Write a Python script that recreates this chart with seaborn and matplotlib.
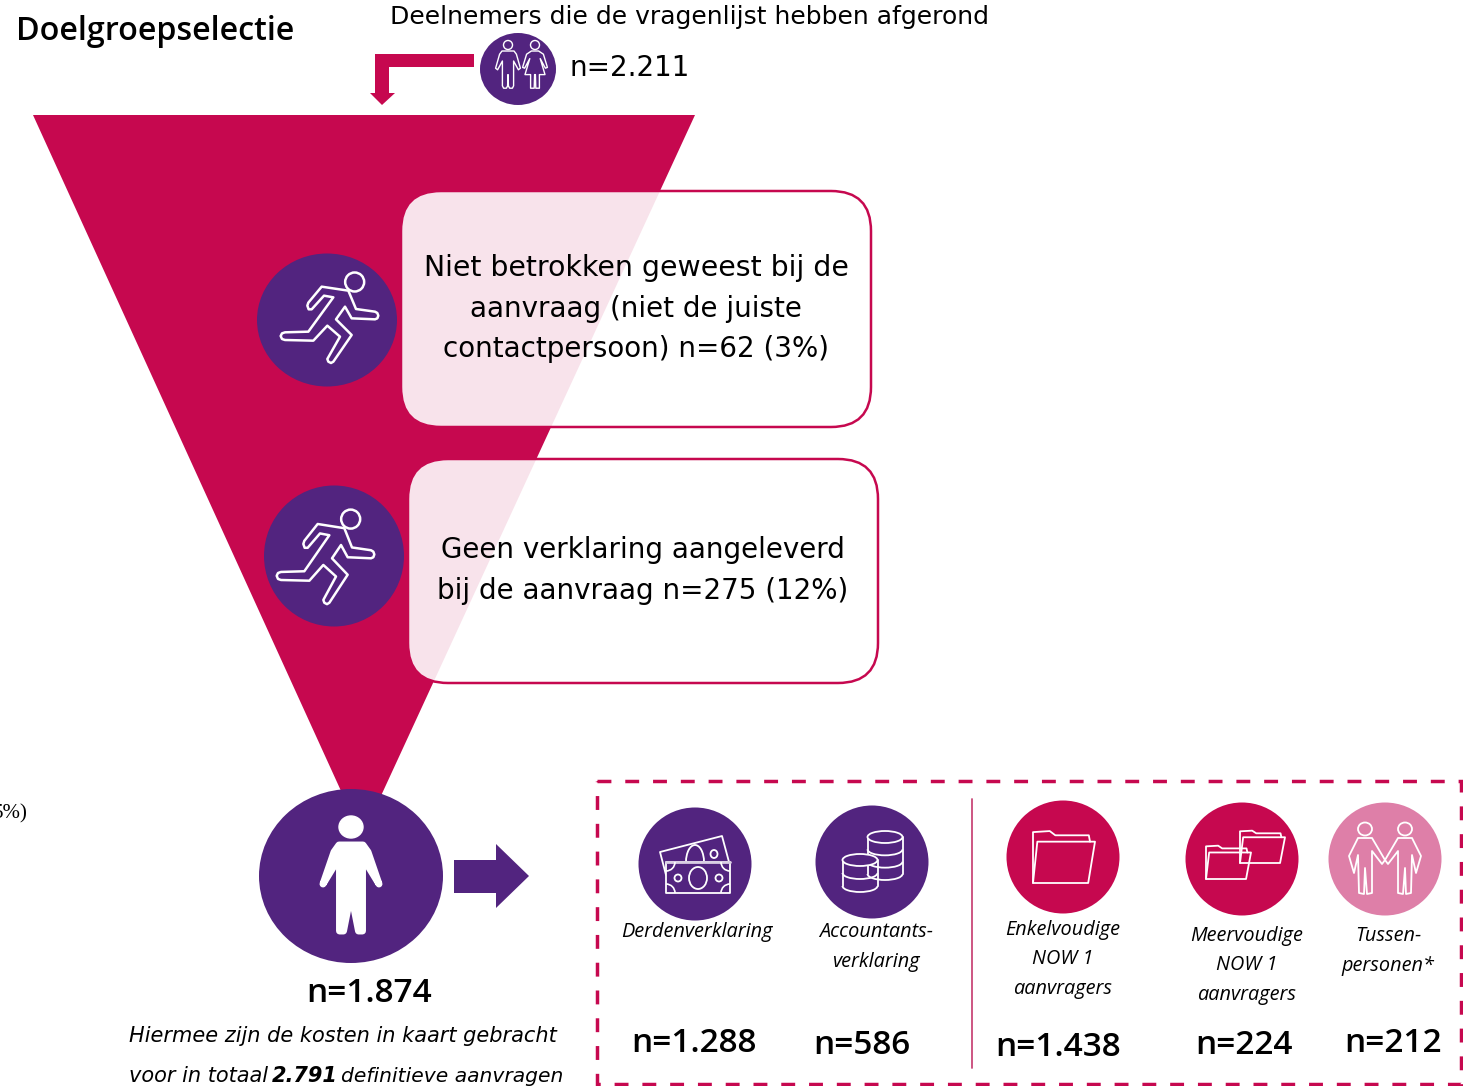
import matplotlib
matplotlib.use("Agg")
import matplotlib.pyplot as plt
import numpy as np
import pandas as pd
import seaborn as sns
from matplotlib.patches import Arc, Ellipse, FancyBboxPatch, Polygon

CRIMSON = "#C6084F"
PURPLE = "#52247F"
PINK = "#DE7FA8"

# Chart content
title = "Doelgroepselectie"
start_label = "Deelnemers die de vragenlijst hebben afgerond"
start_n = "n=2.211"
drop_labels = [
    ["Niet betrokken geweest bij de", "aanvraag (niet de juiste", "contactpersoon) n=62 (3%)"],
    ["Geen verklaring aangeleverd", "bij de aanvraag n=275 (12%)"],
]
end_n = "n=1.874"
note_start = ["Hiermee zijn de kosten in kaart gebracht", "voor in totaal"]
note_total = "2.791"
note_end = "definitieve aanvragen"
group_names = [
    ["Derdenverklaring"],
    ["Accountants-", "verklaring"],
    ["Enkelvoudige", "NOW 1", "aanvragers"],
    ["Meervoudige", "NOW 1", "aanvragers"],
    ["Tussen-", "personen*"],
]
group_counts = ["n=1.288", "n=586", "n=1.438", "n=224", "n=212"]
group_kinds = ["verklaring", "verklaring", "aanvrager", "aanvrager", "tussen"]

sns.set_theme(style="white")
plt.rcParams["font.family"] = ["DejaVu Sans"]

fig = plt.figure(figsize=(14.63, 10.86), dpi=100)
ax = fig.add_axes([0, 0, 1, 1])


def txt(x, y, s, size, ha="center", **kw):
    ax.text(x, y, s, fontsize=size, ha=ha, va="center", color="black", **kw)


def outline(points, lw=1.3, fc="none", z=6, ec="white"):
    ax.add_patch(Polygon(points, closed=True, fc=fc, ec=ec, lw=lw, joinstyle="round", zorder=z))


def head(x, y, rx, ry, lw=1.3, fc="none"):
    ax.add_patch(Ellipse((x, y), 2 * rx, 2 * ry, fc=fc, ec="white", lw=lw, zorder=6))


# person shape, centre x = 0, head top y = 0, feet y = 118
person = np.array([(-15, 25), (15, 25), (21, 33), (31, 68), (26, 72), (14, 50), (14, 112), (11, 118),
                   (4, 118), (1, 112), (0, 84), (-1, 112), (-4, 118), (-11, 118), (-14, 112),
                   (-14, 50), (-26, 72), (-31, 68), (-21, 33)], dtype=float)
woman = np.array([(-9, 25), (9, 25), (21, 33), (31, 66), (26, 68), (13, 44), (25, 84), (11, 84), (11, 118),
                  (2, 118), (1, 84), (-1, 84), (-2, 118), (-11, 118), (-11, 84), (-25, 84), (-13, 44),
                  (-26, 68), (-31, 66), (-21, 33)], dtype=float)
# inset shape for the solid figure, the thick round stroke brings it back to size
big_person = np.array([(-12, 28), (12, 28), (17, 35), (28, 67), (11.5, 40), (11.5, 114), (7.5, 114), (0, 76),
                       (-7.5, 114), (-11.5, 114), (-11.5, 40), (-28, 67), (-17, 35)], dtype=float)

# runner, traced from the first circle
runner = np.array([(215, 140), (295, 152), (318, 207), (375, 215), (382, 219), (385, 227), (382, 235), (375, 238),
                   (305, 235), (285, 200), (258, 238), (305, 285), (250, 365), (243, 369), (235, 365), (232, 357),
                   (270, 290), (232, 257), (190, 302), (105, 300), (96, 297), (92, 288), (96, 280), (105, 277),
                   (175, 275), (250, 172), (222, 167), (185, 208), (176, 208), (172, 197), (175, 188)],
                  dtype=float) / 3


def draw_runner(dx, dy, sy=1.0):
    pts = runner.copy()
    pts[:, 0] += dx
    pts[:, 1] = pts[:, 1] * sy + dy
    outline(pts, lw=1.8)
    head(314 / 3 + dx, 126 / 3 * sy + dy, 9.5, 9.5, lw=1.8)


def draw_folder(x, y, w, h):
    back = [(0, 1), (0, .04), (.27, .02), (.36, .1), (.9, .1), (.92, .22)]
    front = [(.07, .22), (1, .22), (.89, 1), (0, 1)]
    ax.plot([x + a * w for a, b in back], [y + b * h for a, b in back], color="white", lw=1.3, zorder=6)
    outline([(x + a * w, y + b * h) for a, b in front], lw=1.3)


def draw_stack(cx, top, bottom, rx, ry, bands):
    ax.add_patch(plt.Rectangle((cx - rx, top), 2 * rx, bottom - top, fc=PURPLE, ec="none", zorder=6))
    ax.add_patch(Ellipse((cx, bottom), 2 * rx, 2 * ry, fc=PURPLE, ec="none", zorder=6))
    ax.plot([cx - rx, cx - rx], [top, bottom], color="white", lw=1.3, zorder=7)
    ax.plot([cx + rx, cx + rx], [top, bottom], color="white", lw=1.3, zorder=7)
    ax.add_patch(Ellipse((cx, top), 2 * rx, 2 * ry, fc=PURPLE, ec="white", lw=1.3, zorder=7))
    for b in np.linspace(top, bottom, bands + 1)[1:]:
        ax.add_patch(Arc((cx, b), 2 * rx, 2 * ry, theta1=0, theta2=180, ec="white", lw=1.3, zorder=7))


# funnel
ax.add_patch(Polygon([(33, 115), (695, 115), (362, 837)], closed=True, fc=CRIMSON, ec="none", zorder=1))

# elbow arrow
ax.add_patch(Polygon([(474, 54), (375, 54), (375, 93), (370, 93), (382, 105), (395, 93), (389, 93), (389, 67), (474, 67)],
                     closed=True, fc=CRIMSON, ec="none", zorder=2))

# purple arrow
ax.add_patch(Polygon([(454, 860), (496, 860), (496, 844), (529, 876), (496, 908), (496, 893), (454, 893)],
                     closed=True, fc=PURPLE, ec="none", zorder=2))

# text boxes over the funnel
for x0, y0, x1, y1 in [(401, 191, 871, 427), (408, 459, 878, 683)]:
    ax.add_patch(FancyBboxPatch((x0 + 40, y0 + 40), x1 - x0 - 80, y1 - y0 - 80, boxstyle="round,pad=40,rounding_size=40",
                                fc=(1, 1, 1, 0.89), ec=CRIMSON, lw=1.8, zorder=3))

# dashed frame and divider
ax.add_patch(plt.Rectangle((597, 781), 864, 303, fc="none", ec=CRIMSON, lw=2.5,
                           linestyle=(0, (4, 4)), zorder=2))
ax.plot([972, 972], [799, 1068], color="#C94878", lw=1.3, zorder=2)

# round group icons, one marker per group
group_df = pd.DataFrame({
    "x": [695, 872, 1063, 1242, 1385],
    "y": [864, 862, 857, 859, 859],
    "soort": group_kinds,
})
sns.scatterplot(data=group_df, x="x", y="y", hue="soort", ax=ax, s=(113 * 0.72) ** 2, linewidth=0, legend=False,
                palette={"verklaring": PURPLE, "aanvrager": CRIMSON, "tussen": PINK}, zorder=4)

# the slightly oval circles
for cx, cy, w, h in [(518, 69, 76, 72), (327, 320, 140, 133), (334, 556, 140, 141), (351, 876, 184, 174)]:
    ax.add_patch(Ellipse((cx, cy), w, h, fc=PURPLE, ec="none", zorder=4))

# top couple icon
outline(person * 0.4 + (508, 41), lw=1)
head(508, 45, 4.5, 4.5, lw=1)
outline(woman * 0.4 + (535, 41), lw=1)
head(535, 45, 4.5, 4.5, lw=1)

# runners
draw_runner(250, 240)
draw_runner(246, 475, 1.05)

# big person
outline(big_person + (351, 817), lw=5, fc="white", ec="white")
head(351, 827, 12, 11, lw=1, fc="white")

# bank notes
outline([(660, 852), (722, 836), (729, 862), (666, 875)], lw=1.3)
ax.add_patch(Arc((695, 862), 18, 34, theta1=180, theta2=360, ec="white", lw=1.3, zorder=6))
head(714, 854, 3.5, 4)
outline([(666, 862), (730, 862), (730, 893), (666, 893)], lw=1.3, fc=PURPLE)
ax.plot([666, 730], [862, 862], color="#D9CDE3", lw=2, zorder=7)
head(698, 878, 9, 11)
head(678, 878, 3.5, 3.5)
head(719, 878, 3.5, 3.5)
for cx, cy, a, b in [(666, 862, 0, 90), (730, 862, 90, 180), (666, 893, 270, 360), (730, 893, 180, 270)]:
    ax.add_patch(Arc((cx, cy), 18, 18, theta1=a, theta2=b, ec="white", lw=1.2, zorder=7))

# coins
draw_stack(885, 837, 874, 17.5, 6, 3)
draw_stack(860, 860, 886, 17.5, 6, 2)

# folders
draw_folder(1033, 830, 62, 53)
draw_folder(1240, 830, 45, 33)
draw_folder(1206, 845, 45, 34)

# handshake
left_body = [(1358, 838), (1372, 838), (1385, 860), (1382, 864), (1372, 851), (1372, 893), (1367, 894), (1365, 868),
             (1364, 894), (1359, 893), (1358, 855), (1354, 873), (1349, 856)]
outline(left_body, lw=1.3)
outline([(2 * 1385 - a, b) for a, b in left_body], lw=1.3)
head(1365, 829, 7, 6.5)
head(1405, 829, 7, 6.5)

# texts
txt(16, 31, title, 23.2, ha="left", fontfamily="Open Sans", fontweight="semibold")
txt(690, 17, start_label, 18)
txt(630, 68, start_n, 20)
for y, s, size in zip([268, 309, 349], drop_labels[0], [20.4, 20, 20]):
    txt(636, y, s, size)
for y, s in zip([550, 591], drop_labels[1]):
    txt(643, y, s, 20)
txt(28, 814, "5%)", 15, ha="right", fontfamily="Liberation Serif")
txt(369, 993, end_n, 24, fontfamily="Open Sans", fontweight="semibold")
txt(129, 1036, note_start[0], 15, ha="left", style="italic")
txt(129, 1076, note_start[1], 15, ha="left", style="italic")
txt(272, 1076, note_total, 15, ha="left", style="italic", fontweight="bold")
txt(341, 1076, note_end, 14.6, ha="left", style="italic")

name_x = [697, 876, 1063, 1247, 1388]
name_y = [932, 932, 930, 936, 936]
count_x = [694, 862, 1058, 1244, 1393]
count_y = [1043, 1045, 1048, 1045, 1043]
for i, lines in enumerate(group_names):
    for j, s in enumerate(lines):
        txt(name_x[i], name_y[i] + j * 29.5, s, 14.3, style="italic", fontfamily="Open Sans")
    txt(count_x[i], count_y[i], group_counts[i], 24, fontfamily="Open Sans", fontweight="semibold")

ax.set_xlim(0, 1463)
ax.set_ylim(1086, 0)
ax.axis("off")
fig.savefig("out.png", dpi=100)
